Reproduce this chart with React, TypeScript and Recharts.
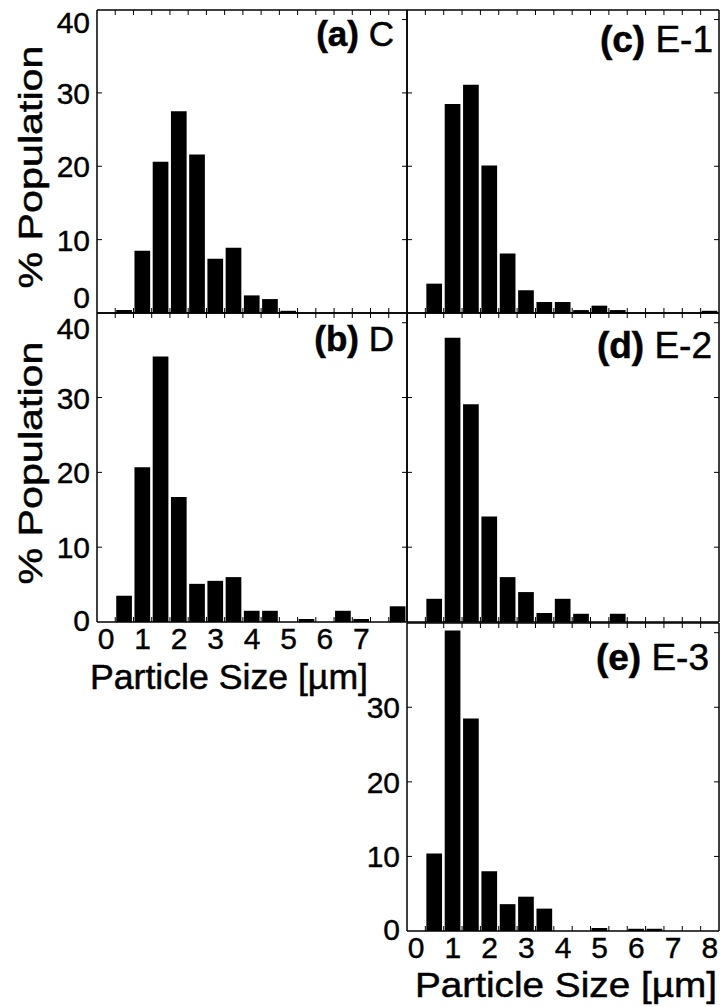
import { BarChart, Bar, XAxis, YAxis } from 'recharts';

// bin centres of the histograms, µm
const bins = [0.5, 1, 1.5, 2, 2.5, 3, 3.5, 4, 4.5, 5, 5.5, 6, 6.5, 7, 7.5, 8];

// % population per bin
const popC = [0.4, 8.5, 20.6, 27.5, 21.6, 7.4, 8.9, 2.4, 1.9, 0.3, 0, 0, 0, 0, 0, 0];
const popD = [3.5, 20.7, 35.5, 16.7, 5.1, 5.5, 6.0, 1.5, 1.5, 0, 0.4, 0, 1.5, 0.4, 0, 2.1];
const popE1 = [4.0, 28.5, 31.1, 20.1, 8.1, 3.1, 1.5, 1.5, 0.4, 1.0, 0.4, 0, 0, 0, 0, 0.3];
const popE2 = [3.1, 38.0, 29.1, 14.1, 6.0, 4.0, 1.2, 3.1, 1.1, 0, 1.1, 0, 0, 0, 0, 0];
const popE3 = [10.4, 40.3, 28.5, 8.0, 3.6, 4.6, 3.0, 0, 0, 0.4, 0, 0.3, 0.3, 0, 0, 0];

// tick marks sit on the bin edges, labels on whole microns
const xEdges = [0.25, 0.75, 1.25, 1.75, 2.25, 2.75, 3.25, 3.75, 4.25, 4.75, 5.25, 5.75, 6.25, 6.75, 7.25, 7.75];
const xLabelsD = [0, 1, 2, 3, 4, 5, 6, 7];
const xLabelsE3 = [0, 1, 2, 3, 4, 5, 6, 7, 8];
const yTicks = [0, 10, 20, 30, 40];
const yLabelsLeft = [0, 10, 20, 30, 40];
const yLabelsE3 = [0, 10, 20, 30];

const xDomain: [number, number] = [-0.25, 8.25];
const yDomain: [number, number] = [0, 41.3];

const FONT = '"Liberation Sans", Arial, Helvetica, sans-serif';
const axisStyle = { stroke: '#000', strokeWidth: 1.5 };
const TICK_FONT = 30;

interface PanelSpec {
  id: string;
  values: number[];
  left: number;
  top: number;
  width: number;
  height: number;
  xLabels: number[];
  yLabels: number[];
  nudge: Record<number, number>;
}

const panels: PanelSpec[] = [
  { id: 'a', values: popC, left: 97, top: 10, width: 310, height: 303, xLabels: [], yLabels: yLabelsLeft, nudge: { 0: -16, 40: 2 } },
  { id: 'c', values: popE1, left: 407, top: 10, width: 312, height: 303, xLabels: [], yLabels: [], nudge: {} },
  { id: 'b', values: popD, left: 97, top: 313, width: 310, height: 309, xLabels: xLabelsD, yLabels: yLabelsLeft, nudge: { 40: 5, 0: -2 } },
  { id: 'd', values: popE2, left: 407, top: 313, width: 312, height: 309, xLabels: [], yLabels: [], nudge: {} },
  { id: 'e', values: popE3, left: 407, top: 623, width: 312, height: 308, xLabels: xLabelsE3, yLabels: yLabelsE3, nudge: { 0: -2 } },
];

const TICK = 5;

const BottomTick = ({ x, y, payload, labels }: any) => {
  const v = payload.value;
  if (labels.includes(v)) {
    return (
      <text x={x} y={y + 27} textAnchor="middle" fontFamily={FONT} fontSize={TICK_FONT} fill="#000" stroke="#000" strokeWidth={0.4}>
        {v}
      </text>
    );
  }
  if (xEdges.includes(v)) {
    return <line x1={x} x2={x} y1={y} y2={y - TICK} stroke="#000" strokeWidth={1} />;
  }
  return <g />;
};

const TopTick = ({ x, y }: any) => <line x1={x} x2={x} y1={y} y2={y + TICK} stroke="#000" strokeWidth={1} />;

const LeftTick = ({ x, y, payload, labels, nudge }: any) => {
  const v = payload.value;
  const dy = nudge[v] ?? 0;
  return (
    <g>
      {v !== 0 && v !== 40 ? <line x1={x} x2={x + TICK} y1={y} y2={y} stroke="#000" strokeWidth={1} /> : null}
      {labels.includes(v) ? (
        <text x={x - 7} y={y + 11 + dy} textAnchor="end" fontFamily={FONT} fontSize={TICK_FONT} fill="#000" stroke="#000" strokeWidth={0.4}>
          {v}
        </text>
      ) : null}
    </g>
  );
};

const RightTick = ({ x, y, payload }: any) =>
  payload.value !== 0 ? <line x1={x} x2={x - TICK} y1={y} y2={y} stroke="#000" strokeWidth={1} /> : <g />;

const Panel = ({ p }: { p: PanelSpec }) => {
  const data = bins.map((size, i) => ({ size, pct: p.values[i] }));
  // one pixel of each side is taken by the axis band
  const m = { top: 9, right: 3, bottom: 43, left: 96 };
  const bottomTicks = [...xEdges, ...p.xLabels].sort((a, b) => a - b);
  return (
    <div style={{ position: 'absolute', left: p.left - m.left - 1, top: p.top - m.top - 1 }}>
      <BarChart width={p.width + m.left + m.right + 2} height={p.height + m.top + m.bottom + 2} data={data} margin={m}>
        <XAxis
          xAxisId="bottom"
          dataKey="size"
          type="number"
          domain={xDomain}
          allowDataOverflow
          ticks={bottomTicks}
          interval={0}
          height={1}
          tickSize={0}
          tickMargin={0}
          tickLine={false}
          axisLine={axisStyle}
          tick={(t: any) => <BottomTick {...t} labels={p.xLabels} />}
        />
        <XAxis
          xAxisId="top"
          orientation="top"
          dataKey="size"
          type="number"
          domain={xDomain}
          allowDataOverflow
          ticks={xEdges}
          interval={0}
          height={1}
          tickSize={0}
          tickMargin={0}
          tickLine={false}
          axisLine={axisStyle}
          tick={(t: any) => <TopTick {...t} />}
        />
        <YAxis
          yAxisId="left"
          type="number"
          domain={yDomain}
          allowDataOverflow
          ticks={yTicks}
          interval={0}
          width={1}
          tickSize={0}
          tickMargin={0}
          tickLine={false}
          axisLine={axisStyle}
          tick={(t: any) => <LeftTick {...t} labels={p.yLabels} nudge={p.nudge} />}
        />
        <YAxis
          yAxisId="right"
          orientation="right"
          type="number"
          domain={yDomain}
          allowDataOverflow
          ticks={yTicks}
          interval={0}
          width={1}
          tickSize={0}
          tickMargin={0}
          tickLine={false}
          axisLine={axisStyle}
          tick={(t: any) => <RightTick {...t} />}
        />
        <Bar xAxisId="bottom" yAxisId="left" dataKey="pct" fill="#000" barSize={15.7} isAnimationActive={false} />
      </BarChart>
    </div>
  );
};

const panelTitles = [
  { bold: '(a)', name: 'C', x: 394, y: 46, size: 35 },
  { bold: '(b)', name: 'D', x: 394, y: 351, size: 35 },
  { bold: '(c)', name: 'E-1', x: 713, y: 52, size: 37 },
  { bold: '(d)', name: 'E-2', x: 712, y: 358, size: 37 },
  { bold: '(e)', name: 'E-3', x: 709, y: 670, size: 37 },
];

export default function App() {
  return (
    <div style={{ position: 'absolute', left: 0, top: 0, width: 723, height: 1007, background: '#fff', overflow: 'hidden' }}>
      {panels.map((p) => (
        <Panel key={p.id} p={p} />
      ))}
      <svg width={723} height={1007} style={{ position: 'absolute', left: 0, top: 0, pointerEvents: 'none' }}>
        <g fontFamily={FONT} fill="#000" stroke="#000" strokeWidth={0.5}>
          <text transform="translate(42,167) rotate(-90)" textAnchor="middle" fontSize={33} textLength={243} lengthAdjust="spacingAndGlyphs">
            % Population
          </text>
          <text transform="translate(42,463) rotate(-90)" textAnchor="middle" fontSize={33} textLength={243} lengthAdjust="spacingAndGlyphs">
            % Population
          </text>
          <text x={90} y={689} fontSize={35} textLength={278} lengthAdjust="spacingAndGlyphs">
            Particle Size [µm]
          </text>
          <text x={415} y={997} fontSize={35} textLength={302} lengthAdjust="spacingAndGlyphs">
            Particle Size [µm]
          </text>
          {panelTitles.map((t) => (
            <text key={t.bold} x={t.x} y={t.y} textAnchor="end" fontSize={t.size}>
              <tspan fontWeight="bold">{t.bold}</tspan>
              {' ' + t.name}
            </text>
          ))}
        </g>
      </svg>
    </div>
  );
}
